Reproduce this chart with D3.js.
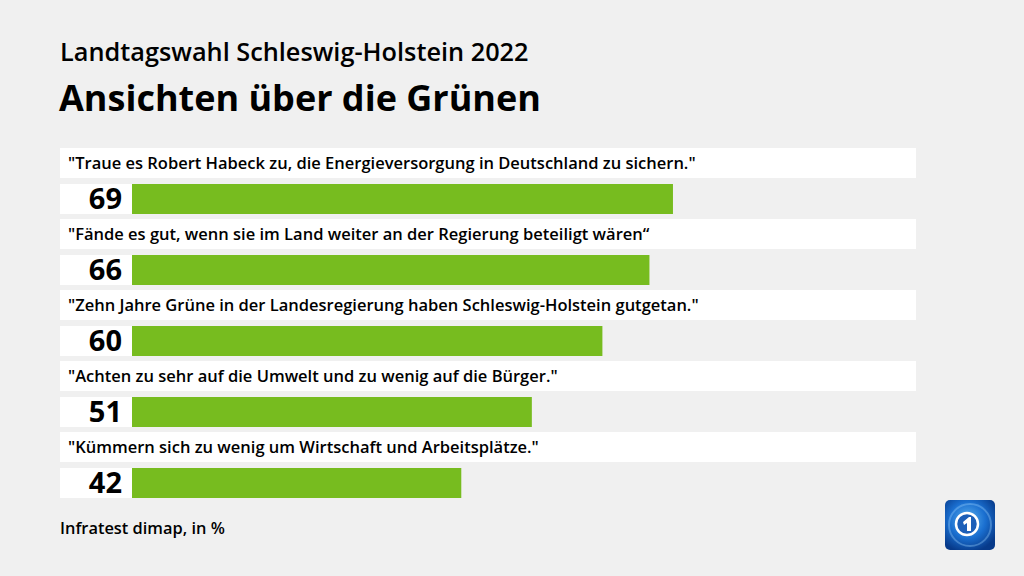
<!DOCTYPE html>
<html>
<head>
<meta charset="utf-8">
<script src="https://cdn.jsdelivr.net/npm/d3@7"></script>
<style>
  body { margin: 0; background: #f0f0f0; }
  svg { display: block; }
</style>
</head>
<body>
<div class="chart"></div>
<script>
// Data
var statements = [
  "\"Traue es Robert Habeck zu, die Energieversorgung in Deutschland zu sichern.\"",
  "\"Fände es gut, wenn sie im Land weiter an der Regierung beteiligt wären“",
  "\"Zehn Jahre Grüne in der Landesregierung haben Schleswig-Holstein gutgetan.\"",
  "\"Achten zu sehr auf die Umwelt und zu wenig auf die Bürger.\"",
  "\"Kümmern sich zu wenig um Wirtschaft und Arbeitsplätze.\""
];
var values = [69, 66, 60, 51, 42];

var width = 1024, height = 576;
var font = "'Open Sans', Lato, sans-serif";

var svg = d3.select(".chart")
  .append("svg")
  .attr("width", width)
  .attr("height", height);

svg.append("rect")
  .attr("width", width)
  .attr("height", height)
  .attr("fill", "#f0f0f0");

// Titles
svg.append("text")
  .attr("x", 60)
  .attr("y", 61)
  .style("font", "600 25.3px " + font)
  .attr("fill", "#000")
  .text("Landtagswahl Schleswig-Holstein 2022");

svg.append("text")
  .attr("x", 59)
  .attr("y", 111)
  .style("font", "bold 36px " + font)
  .attr("fill", "#000")
  .text("Ansichten über die Grünen");

// Scales
var x = d3.scaleLinear()
  .domain([0, 100])
  .range([132, 916]);

var y = d3.scaleBand()
  .domain(d3.range(statements.length))
  .range([148, 503])
  .paddingInner(0);

var rows = svg.selectAll(".row")
  .data(values)
  .enter()
  .append("g")
  .attr("class", "row")
  .attr("transform", (d, i) => "translate(0," + y(i) + ")");

// Statement label box
rows.append("rect")
  .attr("x", 60)
  .attr("y", 0)
  .attr("width", x(100) - 60)
  .attr("height", 30)
  .attr("fill", "#ffffff");

rows.append("text")
  .attr("x", 68)
  .attr("y", 21)
  .style("font", "600 16.5px " + font)
  .attr("fill", "#000")
  .text((d, i) => statements[i]);

// Value box
rows.append("rect")
  .attr("x", 60)
  .attr("y", 36)
  .attr("width", x(0) - 60)
  .attr("height", 30)
  .attr("fill", "#ffffff");

rows.append("rect")
  .attr("x", x(0))
  .attr("y", 36)
  .attr("width", d => x(d) - x(0))
  .attr("height", 30)
  .attr("fill", "#77bc1f");

rows.append("text")
  .attr("x", 122)
  .attr("y", 61)
  .attr("text-anchor", "end")
  .style("font", "bold 29px " + font)
  .attr("fill", "#000")
  .text(d => d);

// Footer
svg.append("text")
  .attr("x", 60)
  .attr("y", 534)
  .style("font", "600 16.4px " + font)
  .attr("fill", "#000")
  .text("Infratest dimap, in %");

// Logo
var defs = svg.append("defs");
var lg = defs.append("radialGradient")
  .attr("id", "globe")
  .attr("cx", "45%").attr("cy", "40%").attr("r", "65%");
lg.append("stop").attr("offset", "0%").attr("stop-color", "#5fb4f0");
lg.append("stop").attr("offset", "55%").attr("stop-color", "#1a6fd0");
lg.append("stop").attr("offset", "100%").attr("stop-color", "#073a8a");

var logo = svg.append("g").attr("transform", "translate(945,500)");
logo.append("rect")
  .attr("width", 50).attr("height", 50).attr("rx", 5)
  .attr("fill", "url(#globe)");
logo.append("circle")
  .attr("cx", 25).attr("cy", 25).attr("r", 21)
  .attr("fill", "none")
  .attr("stroke", "#9fd3ff")
  .attr("stroke-opacity", 0.35)
  .attr("stroke-width", 2);
logo.append("circle")
  .attr("cx", 22).attr("cy", 24).attr("r", 11)
  .attr("fill", "#1c5fb8")
  .attr("stroke", "#ffffff")
  .attr("stroke-width", 2.5);
logo.append("path")
  .attr("d", "M18,22 L24,17 L26,17 L26,31 L22,31 L22,23 L19,25 Z")
  .attr("fill", "#ffffff");
</script>
</body>
</html>
